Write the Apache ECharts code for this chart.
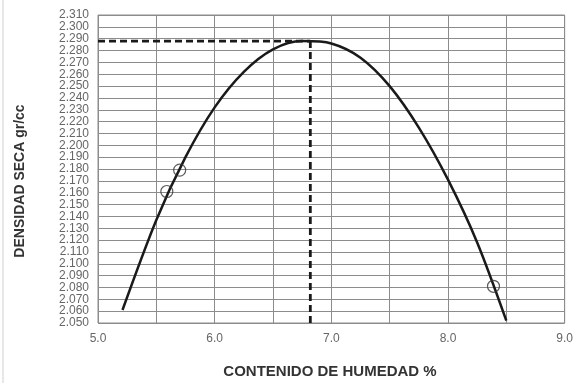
<!DOCTYPE html>
<html>
<head>
<meta charset="utf-8">
<script src="https://cdn.jsdelivr.net/npm/echarts@6/dist/echarts.min.js"></script>
<style>html,body{margin:0;padding:0;background:#fff}#c{width:576px;height:383px}</style>
</head>
<body>
<div id="c"></div>
<script>
// Curve
const curveX = [5.21, 5.50, 5.75, 6.00, 6.25, 6.50, 6.75, 7.00, 7.25, 7.50, 7.75, 8.00, 8.25, 8.50];
const curveY = [2.061, 2.137, 2.190, 2.232, 2.262, 2.281, 2.288, 2.286, 2.274, 2.250, 2.215, 2.171, 2.118, 2.052];
// Measured points
const pointX = [5.59, 5.70, 8.39];
const pointY = [2.161, 2.179, 2.081];
// Optimum
const optMoisture = 6.82;
const maxDensity = 2.288;
// Axes
const xMin = 5.0, xMax = 9.0, xStep = 0.5;
const yMin = 2.05, yMax = 2.31, yStep = 0.01;
const xTitle = 'CONTENIDO DE HUMEDAD %';
const yTitle = 'DENSIDAD SECA gr/cc';

const chart = echarts.init(document.getElementById('c'), null, {renderer: 'canvas'});
const gridColor = '#8c8c8c';
chart.setOption({
  animation: false,
  backgroundColor: '#fff',
  grid: {left: 98, right: 9, top: 15, bottom: 60, show: true, borderColor: gridColor, borderWidth: 1},
  graphic: [
    {type: 'line', shape: {x1: 3, y1: 0, x2: 3, y2: 383}, style: {stroke: '#cfcfcf', lineWidth: 1}},
    {type: 'text', x: 330, y: 372, style: {text: xTitle, font: 'bold 15px "Liberation Sans", Arial, sans-serif', fill: '#333', align: 'center', verticalAlign: 'middle'}},
    {type: 'text', x: 20, y: 181, rotation: Math.PI / 2, style: {text: yTitle, font: 'bold 14px "Liberation Sans", Arial, sans-serif', fill: '#333', align: 'center', verticalAlign: 'middle'}}
  ],
  xAxis: {
    type: 'value', min: xMin, max: xMax, interval: xStep,
    axisLine: {show: false}, axisTick: {show: false},
    splitLine: {show: true, lineStyle: {color: gridColor, width: 1}},
    axisLabel: {
      margin: 10, color: '#666', fontSize: 12, fontFamily: '"Liberation Sans", Arial, sans-serif',
      showMinLabel: true, showMaxLabel: true,
      formatter: v => (Math.abs(v - Math.round(v)) < 1e-6 ? v.toFixed(1) : '')
    }
  },
  yAxis: {
    type: 'value', min: yMin, max: yMax, interval: yStep,
    axisLine: {show: false}, axisTick: {show: false},
    splitLine: {show: true, lineStyle: {color: gridColor, width: 1}},
    axisLabel: {
      margin: 9, color: '#666', fontSize: 12, fontFamily: '"Liberation Sans", Arial, sans-serif',
      showMinLabel: true, showMaxLabel: true,
      formatter: v => v.toFixed(3)
    }
  },
  series: [
    {
      type: 'line', data: curveX.map((x, i) => [x, curveY[i]]), smooth: 0.3, showSymbol: false,
      lineStyle: {color: '#1a1a1a', width: 2.5}, z: 3
    },
    {
      type: 'line', data: [[xMin, maxDensity], [optMoisture, maxDensity]], showSymbol: false,
      lineStyle: {color: '#1a1a1a', width: 2.8, type: [7, 4]}, z: 2
    },
    {
      type: 'line', data: [[optMoisture, maxDensity], [optMoisture, yMin]], showSymbol: false,
      lineStyle: {color: '#1a1a1a', width: 2.8, type: [7, 4]}, z: 2
    },
    {
      type: 'scatter', data: pointX.map((x, i) => [x, pointY[i]]), symbol: 'circle', symbolSize: 12,
      itemStyle: {color: 'rgba(255,255,255,0)', borderColor: '#333', borderWidth: 1.2}, z: 4
    }
  ]
});
</script>
</body>
</html>
